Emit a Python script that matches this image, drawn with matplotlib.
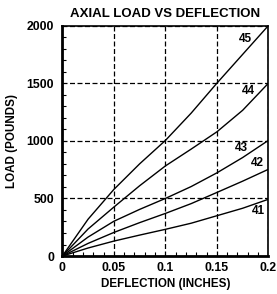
import matplotlib
matplotlib.use("Agg")
import matplotlib.pyplot as plt
from matplotlib.ticker import MultipleLocator

plt.rcParams["font.family"] = ["Liberation Sans", "DejaVu Sans"]
plt.rcParams["font.weight"] = "bold"

# deflection (inches)
DEFL = [0.0, 0.025, 0.05, 0.075, 0.1, 0.125, 0.15, 0.175, 0.2]

# load (pounds) per curve
LOAD_41 = [0, 70, 130, 182, 232, 285, 350, 415, 493]
LOAD_42 = [0, 110, 205, 290, 370, 455, 552, 650, 753]
LOAD_43 = [0, 165, 302, 405, 500, 603, 722, 855, 1004]
LOAD_44 = [0, 235, 425, 610, 782, 928, 1078, 1265, 1500]
LOAD_45 = [0, 320, 578, 800, 1003, 1240, 1500, 1750, 2000]

CURVES = [("41", LOAD_41), ("42", LOAD_42), ("43", LOAD_43),
          ("44", LOAD_44), ("45", LOAD_45)]
LABEL_POS = {"41": (0.190, 390), "42": (0.189, 805), "43": (0.174, 935),
             "44": (0.181, 1431), "45": (0.178, 1885)}

fig = plt.figure(figsize=(2.77, 2.94), dpi=100)
ax = fig.add_axes([0.225, 0.129, 0.744, 0.784])

for name, load in CURVES:
    ax.plot(DEFL, load, color="black", linewidth=1.0)
    lx, ly = LABEL_POS[name]
    ax.text(lx, ly, name, fontsize=8.5, fontweight="bold",
            ha="center", va="center")

ax.set_xlim(0, 0.2)
ax.set_ylim(0, 2000)
ax.xaxis.set_major_locator(MultipleLocator(0.05))
ax.xaxis.set_minor_locator(MultipleLocator(0.01))
ax.yaxis.set_major_locator(MultipleLocator(500))
ax.yaxis.set_minor_locator(MultipleLocator(100))
ax.set_xticks([0, 0.05, 0.1, 0.15, 0.2])
ax.set_xticklabels(["0", "0.05", "0.1", "0.15", "0.2"])
ax.tick_params(which="both", direction="in", labelsize=8.8)
ax.tick_params(axis="y", which="major", length=0, pad=6)
ax.tick_params(axis="x", which="major", length=0, pad=4.5)
ax.tick_params(which="minor", length=3, width=0.8)
ax.grid(which="major", color="black", linestyle=(0, (4, 2)), linewidth=0.9)

for s in ax.spines.values():
    s.set_linewidth(1.2)
ax.spines["left"].set_linewidth(2)
ax.spines["bottom"].set_linewidth(2)

ax.set_title("AXIAL LOAD VS DEFLECTION", fontsize=9.5, fontweight="bold", pad=6)
ax.set_xlabel("DEFLECTION (INCHES)", fontsize=8.4, fontweight="bold", labelpad=3)
ax.set_ylabel("LOAD (POUNDS)", fontsize=8.4, fontweight="bold", labelpad=6)

fig.savefig("out.png", dpi=100)
